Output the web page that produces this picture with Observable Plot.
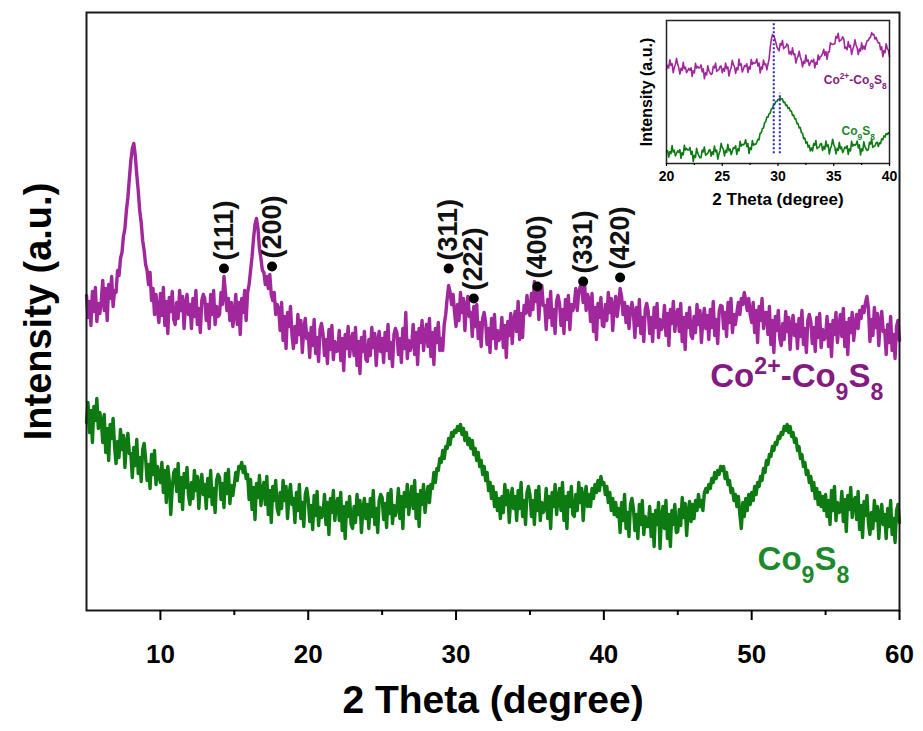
<!DOCTYPE html>
<html>
<head>
<meta charset="utf-8">
<script src="https://cdn.jsdelivr.net/npm/d3@7"></script>
<script src="https://cdn.jsdelivr.net/npm/@observablehq/plot@0.6"></script>
<style>
  body { margin: 0; background: #fff; }
  #chart { position: relative; width: 923px; height: 731px; font-family: "Liberation Sans", Arial, sans-serif; }
  #chart svg { position: absolute; }
  #chart svg text { font-weight: bold; }
</style>
</head>
<body>
<div id="chart"></div>
<script>
// XRD patterns, 2θ from 5° to 60° sampled every 0.1°
const thetaStart = 5, thetaStep = 0.1;

// Co2+-Co9S8 intensity (a.u.)
const co2Co9S8 = [
  315, 293, 309, 285, 319, 299, 323, 289, 307, 297,
  310, 330, 300, 322, 290, 326, 312, 334, 304, 320,
  318, 340, 335, 352, 358, 374, 382, 400, 413, 432,
  450, 462, 467, 455, 436, 420, 400, 388, 370, 360,
  346, 340, 326, 338, 310, 322, 296, 316, 300, 288,
  317, 295, 323, 285, 309, 277, 313, 299, 319, 291,
  286, 308, 292, 320, 300, 314, 282, 306, 316, 296,
  306, 282, 312, 294, 320, 286, 302, 278, 310, 316,
  312, 290, 306, 282, 316, 296, 320, 286, 304, 294,
  296, 318, 306, 334, 318, 300, 312, 290, 308, 284,
  296, 316, 286, 308, 276, 312, 298, 320, 290, 318,
  326, 340, 354, 372, 386, 392, 382, 362, 352, 340,
  338, 326, 334, 322, 336, 316, 310, 318, 296, 306,
  302, 280, 308, 270, 294, 262, 298, 284, 304, 276,
  262, 284, 268, 296, 276, 290, 258, 282, 292, 272,
  277, 253, 283, 265, 291, 257, 273, 249, 281, 287,
  277, 255, 271, 247, 281, 261, 285, 251, 269, 259,
  260, 280, 250, 272, 240, 276, 262, 284, 254, 270,
  277, 255, 283, 245, 269, 237, 273, 259, 279, 251,
  249, 271, 255, 283, 263, 277, 245, 269, 279, 259,
  272, 248, 278, 260, 286, 252, 268, 244, 276, 282,
  278, 256, 272, 248, 282, 262, 298, 252, 270, 260,
  266, 286, 256, 278, 246, 282, 268, 290, 260, 276,
  286, 264, 292, 254, 278, 246, 282, 268, 288, 260,
  272, 260, 286, 296, 312, 325, 318, 306, 316, 298,
  284, 306, 290, 318, 298, 312, 280, 304, 314, 294,
  298, 274, 304, 284, 306, 272, 288, 264, 292, 298,
  288, 266, 282, 258, 292, 272, 296, 262, 280, 270,
  273, 293, 263, 285, 253, 289, 275, 297, 267, 290,
  299, 279, 309, 271, 297, 273, 305, 297, 315, 299,
  295, 317, 301, 329, 309, 323, 291, 315, 325, 305,
  305, 281, 311, 293, 319, 285, 301, 277, 309, 315,
  307, 285, 301, 277, 311, 291, 315, 281, 306, 300,
  306, 322, 300, 318, 324, 322, 308, 326, 300, 316,
  311, 289, 317, 279, 303, 271, 307, 293, 313, 285,
  284, 306, 290, 318, 298, 312, 280, 304, 314, 294,
  306, 322, 314, 296, 308, 288, 304, 282, 300, 308,
  297, 273, 303, 285, 311, 277, 293, 269, 301, 307,
  299, 277, 293, 269, 303, 283, 307, 273, 291, 281,
  285, 305, 275, 297, 265, 301, 287, 309, 279, 295,
  301, 279, 307, 269, 293, 261, 297, 283, 303, 275,
  272, 294, 278, 306, 286, 300, 268, 292, 302, 282,
  295, 271, 301, 283, 309, 275, 291, 267, 299, 305,
  304, 282, 298, 274, 308, 288, 312, 278, 296, 286,
  298, 308, 296, 312, 306, 318, 310, 300, 312, 296,
  288, 308, 278, 300, 268, 304, 290, 312, 282, 298,
  298, 276, 304, 266, 290, 258, 294, 280, 300, 272,
  265, 287, 271, 299, 279, 293, 261, 285, 295, 275,
  286, 262, 292, 274, 300, 266, 282, 258, 290, 296,
  289, 267, 283, 259, 293, 273, 297, 263, 281, 271,
  274, 294, 264, 286, 254, 290, 276, 298, 268, 284,
  296, 274, 302, 264, 288, 256, 292, 278, 298, 270,
  286, 296, 282, 300, 292, 304, 298, 308, 314, 302,
  269, 291, 275, 303, 283, 297, 265, 289, 299, 279,
  280, 256, 286, 268, 294, 260, 276, 252, 284, 290,
  270
];

// Co9S8 intensity (a.u.)
const co9S8 = [
  188, 208, 178, 200, 168, 204, 190, 212, 182, 198,
  190, 168, 196, 158, 182, 150, 186, 172, 192, 164,
  147, 169, 153, 181, 161, 175, 143, 167, 177, 157,
  157, 133, 163, 145, 171, 137, 153, 129, 161, 167,
  152, 130, 146, 122, 156, 136, 160, 126, 144, 134,
  128, 148, 118, 140, 108, 144, 130, 96, 122, 138,
  141, 119, 147, 109, 133, 101, 137, 123, 143, 115,
  106, 128, 112, 140, 120, 134, 102, 126, 136, 116,
  126, 102, 132, 114, 140, 106, 122, 98, 130, 136,
  133, 111, 127, 103, 137, 117, 141, 107, 125, 115,
  126, 138, 130, 144, 142, 148, 138, 144, 132, 136,
  111, 131, 101, 123, 91, 127, 113, 135, 105, 121,
  128, 106, 134, 96, 120, 88, 124, 110, 130, 102,
  96, 118, 102, 130, 110, 124, 92, 116, 126, 106,
  112, 88, 118, 100, 126, 92, 108, 84, 116, 122,
  111, 89, 105, 81, 115, 95, 119, 85, 103, 93,
  96, 116, 86, 108, 76, 112, 98, 120, 90, 106,
  112, 90, 118, 80, 104, 72, 108, 94, 114, 86,
  82, 104, 88, 116, 96, 110, 78, 102, 112, 92,
  106, 82, 112, 94, 120, 86, 102, 78, 110, 116,
  113, 91, 107, 83, 117, 97, 121, 87, 105, 95,
  102, 122, 92, 114, 82, 118, 104, 126, 96, 112,
  124, 102, 130, 92, 116, 84, 120, 106, 126, 98,
  112, 124, 108, 126, 122, 138, 128, 142, 140, 152,
  148, 160, 152, 164, 162, 172, 166, 178, 174, 180,
  178, 184, 180, 186, 176, 182, 170, 178, 166, 172,
  162, 170, 156, 162, 150, 158, 144, 150, 136, 144,
  130, 138, 120, 128, 112, 124, 104, 118, 100, 112,
  92, 114, 98, 126, 106, 120, 88, 112, 122, 102,
  114, 90, 120, 102, 128, 94, 110, 86, 118, 124,
  116, 94, 110, 86, 120, 100, 124, 90, 108, 98,
  102, 122, 92, 114, 82, 118, 104, 126, 96, 112,
  122, 100, 128, 90, 114, 82, 118, 104, 124, 96,
  94, 116, 100, 128, 108, 122, 90, 114, 124, 104,
  116, 104, 122, 112, 126, 118, 130, 120, 134, 126,
  128, 116, 124, 108, 118, 100, 112, 96, 108, 94,
  102, 78, 108, 90, 116, 82, 98, 74, 106, 112,
  102, 80, 96, 72, 106, 86, 110, 76, 94, 84,
  84, 104, 74, 96, 64, 100, 86, 108, 62, 94,
  104, 82, 110, 72, 96, 64, 100, 86, 106, 78,
  79, 101, 85, 113, 93, 107, 75, 99, 109, 89,
  106, 92, 110, 100, 116, 104, 110, 100, 118, 122,
  118, 126, 122, 132, 128, 138, 132, 140, 136, 144,
  140, 144, 132, 138, 126, 130, 118, 122, 110, 116,
  104, 114, 96, 82, 108, 94, 112, 100, 116, 106,
  118, 110, 124, 116, 128, 124, 134, 130, 142, 138,
  150, 146, 156, 154, 164, 160, 168, 166, 174, 172,
  178, 176, 184, 180, 186, 178, 184, 174, 178, 168,
  172, 160, 164, 152, 156, 144, 148, 136, 140, 128,
  134, 120, 128, 112, 122, 106, 118, 104, 114, 100,
  116, 94, 110, 86, 120, 100, 124, 90, 108, 98,
  99, 119, 89, 111, 79, 115, 101, 123, 93, 109,
  113, 91, 119, 81, 105, 73, 109, 95, 115, 87,
  76, 98, 82, 110, 90, 104, 72, 96, 106, 86,
  96, 72, 102, 84, 110, 76, 92, 68, 100, 106,
  88
];

// Reflections indexed on the Co2+-Co9S8 pattern
const hklLabels = ["(111)", "(200)", "(311)", "(222)", "(400)", "(331)", "(420)"];
const hklTheta  = [14.3, 17.55, 29.5, 31.2, 35.5, 38.6, 41.1];
const hklMark   = [342, 344, 342, 312, 324, 329, 333];

// Peak positions compared in the inset (Co2+-Co9S8, Co9S8)
const insetPeaks = [29.62, 30.16];

const seriesNames = ["Co^{2+}-Co_{9}S_{8}", "Co_{9}S_{8}"];
const lineColors  = ["#a0289c", "#0d7a12"];
const textColors  = ["#841b82", "#1c8a2c"];

const xMajor = [10, 20, 30, 40, 50, 60];
const xMinor = [15, 25, 35, 45, 55];
const insetMajor = [20, 25, 30, 35, 40];
const insetMinor = [22.5, 27.5, 32.5, 37.5];

const toRows = (values) => values.map((v, i) => ({
  theta: +(thetaStart + i * thetaStep).toFixed(2),
  intensity: v
}));
const rowsA = toRows(co2Co9S8);
const rowsB = toRows(co9S8);
const hklRows = hklLabels.map((label, i) => ({label, theta: hklTheta[i], intensity: hklMark[i]}));

const font = '"Liberation Sans", Arial, sans-serif';

const main = Plot.plot({
  width: 923,
  height: 731,
  marginLeft: 86,
  marginRight: 24,
  marginTop: 12,
  marginBottom: 121,
  style: {fontFamily: font, background: "transparent", color: "#000", overflow: "visible"},
  x: {domain: [5, 60]},
  y: {domain: [0, 598], axis: null},
  marks: [
    Plot.line(rowsA, {x: "theta", y: "intensity", stroke: lineColors[0], strokeWidth: 3.4, strokeLinejoin: "round"}),
    Plot.line(rowsB, {x: "theta", y: "intensity", stroke: lineColors[1], strokeWidth: 3.4, strokeLinejoin: "round"}),
    Plot.dot(hklRows, {x: "theta", y: "intensity", r: 5, fill: "#000"}),
    Plot.text(hklRows, {x: "theta", y: "intensity", text: "label", rotate: -90, textAnchor: "start", lineAnchor: "middle", dy: -8, fontSize: 27, fontWeight: "bold", fill: "#111"}),
    Plot.frame({stroke: "#1a1a1a", strokeWidth: 2}),
    Plot.axisX({ticks: xMajor, tickSize: 10, tickPadding: 24, fontSize: 26, fontWeight: "bold", strokeWidth: 2, label: null}),
    Plot.axisX({ticks: xMinor, tickSize: 5, strokeWidth: 2, tickFormat: () => "", label: null}),
    Plot.text(["Intensity (a.u.)"], {frameAnchor: "left", textAnchor: "middle", lineAnchor: "middle", rotate: -90, dx: -48, fontSize: 38, fontWeight: "bold"}),
    Plot.text(["2 Theta (degree)"], {frameAnchor: "bottom", textAnchor: "middle", lineAnchor: "middle", dy: 90, fontSize: 39, fontWeight: "bold"}),
    Plot.text([seriesNames[0]], {x: 47.2, y: 234, textAnchor: "start", lineAnchor: "middle", fontSize: 33, fontWeight: "bold", fill: textColors[0]}),
    Plot.text([seriesNames[1]], {x: 50.4, y: 51, textAnchor: "start", lineAnchor: "middle", fontSize: 33, fontWeight: "bold", fill: textColors[1]})
  ]
});

// Inset: 20–40° window, patterns shifted apart vertically and lightly smoothed
const insetShift = [-120, -82];
const insetA = rowsA.filter(d => d.theta >= 20 && d.theta <= 40).map(d => ({theta: d.theta, y: d.intensity + insetShift[0]}));
const insetB = rowsB.filter(d => d.theta >= 20 && d.theta <= 40).map(d => ({theta: d.theta, y: d.intensity + insetShift[1]}));
const peakRules = [{theta: insetPeaks[0], y1: 15, y2: 215}, {theta: insetPeaks[1], y1: 15, y2: 108}];

const inset = Plot.plot({
  width: 262,
  height: 200,
  marginLeft: 30,
  marginRight: 9,
  marginTop: 6,
  marginBottom: 51,
  style: {fontFamily: font, background: "transparent", color: "#000", overflow: "visible"},
  x: {domain: [20, 40]},
  y: {domain: [0, 220], axis: null},
  marks: [
    Plot.line(insetA, Plot.windowY({k: 3, reduce: "mean"}, {x: "theta", y: "y", stroke: lineColors[0], strokeWidth: 1.6})),
    Plot.line(insetB, Plot.windowY({k: 3, reduce: "mean"}, {x: "theta", y: "y", stroke: lineColors[1], strokeWidth: 1.6})),
    Plot.ruleX(peakRules, {x: "theta", y1: "y1", y2: "y2", stroke: "#2424d8", strokeWidth: 2, strokeDasharray: "2,2"}),
    Plot.frame({stroke: "#222", strokeWidth: 1.5}),
    Plot.axisX({ticks: insetMajor, tickSize: 3, tickPadding: 5, fontSize: 14, fontWeight: "bold", strokeWidth: 1.2, label: null}),
    Plot.axisX({ticks: insetMinor, tickSize: 2, strokeWidth: 1.2, tickFormat: () => "", label: null}),
    Plot.text(["Intensity (a.u.)"], {frameAnchor: "left", textAnchor: "middle", lineAnchor: "middle", rotate: -90, dx: -20, fontSize: 16, fontWeight: "bold"}),
    Plot.text(["2 Theta (degree)"], {frameAnchor: "bottom", textAnchor: "middle", lineAnchor: "middle", dy: 36, fontSize: 17, fontWeight: "bold"}),
    Plot.text([seriesNames[0]], {x: 34.1, y: 128, textAnchor: "start", lineAnchor: "middle", fontSize: 12, fontWeight: "bold", fill: textColors[0]}),
    Plot.text([seriesNames[1]], {x: 35.7, y: 49, textAnchor: "start", lineAnchor: "middle", fontSize: 12, fontWeight: "bold", fill: textColors[1]})
  ]
});

// Render ^{..} and _{..} in formula labels as super/subscripts
function formatFormulas(svg) {
  d3.select(svg).selectAll("text").each(function () {
    const s = this.textContent;
    if (!/[\^_]\{/.test(s)) return;
    const node = d3.select(this);
    node.text(null);
    for (const tok of s.match(/\^\{[^}]*\}|_\{[^}]*\}|[^\^_]+/g)) {
      if (tok[0] === "^") {
        node.append("tspan").attr("baseline-shift", "super").attr("font-size", "70%").text(tok.slice(2, -1));
      } else if (tok[0] === "_") {
        node.append("tspan").attr("baseline-shift", "sub").attr("font-size", "70%").text(tok.slice(2, -1));
      } else {
        node.append("tspan").text(tok);
      }
    }
  });
}
formatFormulas(main);
formatFormulas(inset);

main.style.left = "0px";
main.style.top = "0px";
inset.style.left = "636px";
inset.style.top = "14px";
const chart = document.getElementById("chart");
chart.append(main, inset);
</script>
</body>
</html>
